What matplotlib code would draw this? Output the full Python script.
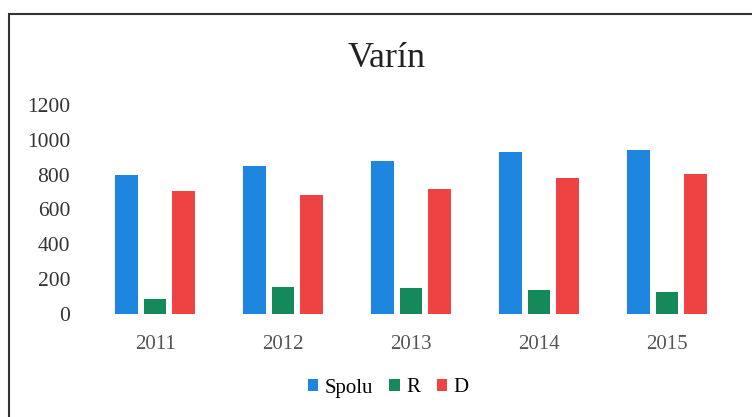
import matplotlib.pyplot as plt
import numpy as np
from matplotlib.patches import Rectangle

years = ["2011", "2012", "2013", "2014", "2015"]
spolu = [800, 847, 878, 933, 943]
r_vals = [86, 153, 149, 136, 124]
d_vals = [709, 685, 717, 781, 805]

plt.rcParams['font.family'] = ['Liberation Serif', 'DejaVu Serif']

fig = plt.figure(figsize=(7.52, 4.17), dpi=100)
ax = fig.add_axes([91 / 752, 1 - 314 / 417, 640 / 752, 209 / 417])

x = np.arange(len(years))
w = 0.177
step = 0.224
ax.bar(x - step, spolu, w, color='#1f86e0', label='Spolu')
ax.bar(x, r_vals, w, color='#14895a', label='R')
ax.bar(x + step, d_vals, w, color='#ef4343', label='D')

ax.set_xlim(-0.5, 4.5)
ax.set_ylim(0, 1200)
ax.set_yticks(range(0, 1201, 200))
ax.set_xticks(x)
ax.set_xticklabels(years)
for s in ax.spines.values():
    s.set_visible(False)
ax.tick_params(length=0)
ax.tick_params(axis='y', labelsize=15.5, colors='#333333', pad=15)
ax.tick_params(axis='x', labelsize=15, colors='#555555', pad=15)

fig.text(387 / 752, 1 - 67 / 417, 'Varín', ha='center', va='baseline', fontsize=26, color='#222222')

fig.legend(loc='center', bbox_to_anchor=(388 / 752, 1 - 388 / 417), ncol=3, frameon=False,
           fontsize=15, handlelength=0.5, handleheight=0.5, handletextpad=0.3, columnspacing=0.8)

# chart border (right and bottom edges fall outside the image)
fig.patches.append(Rectangle((9 / 752, -0.05), 1.0, 1 - 14 / 417 + 0.05,
                             transform=fig.transFigure, fill=False, edgecolor='#333333', lw=1.5))

fig.savefig('out.png', dpi=100)
